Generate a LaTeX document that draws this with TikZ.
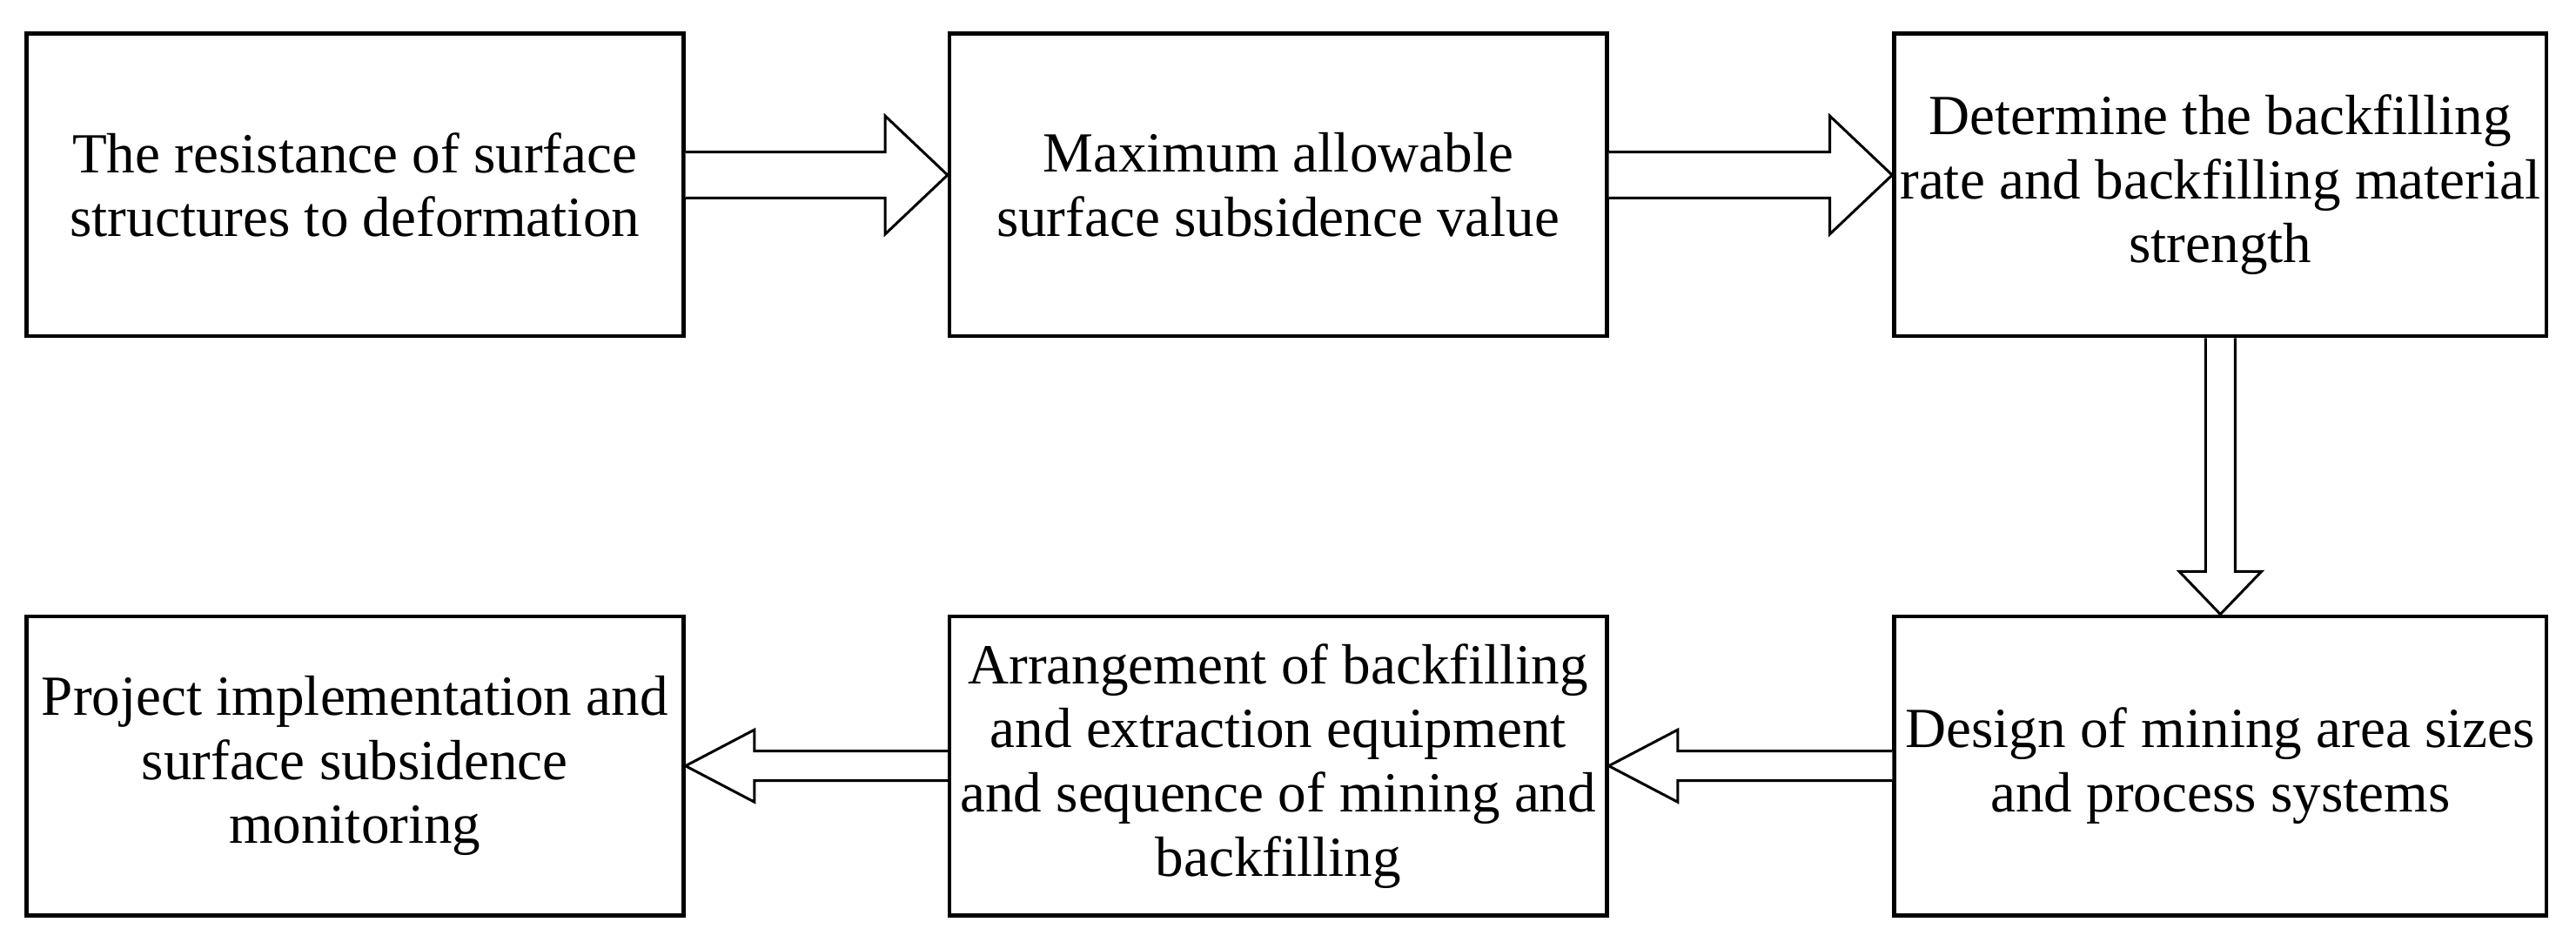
\documentclass[tikz,border=0pt]{standalone}
\usepackage{fontspec}
\setmainfont{Liberation Serif}
\usetikzlibrary{calc}
\begin{document}
\begin{tikzpicture}[x=1pt,y=-1pt,
  box/.style={draw,line width=2.5pt,minimum width=400pt,minimum height=184pt,align=center,font=\fontsize{34.5}{39}\selectfont,inner sep=0pt},
  arr/.style={draw,line width=1.6pt,fill=white}]
\useasboundingbox (0,0) rectangle (1568,577);
\node[box] (a) at (216,112.5) {The resistance of surface\\structures to deformation};
\node[box] (b) at (778,112.5) {Maximum allowable\\surface subsidence value};
\node[box,minimum width=397pt] (c) at (1351.5,112.5) {Determine the backfilling\\rate and backfilling material\\strength};
\node[box,minimum width=397pt,minimum height=182pt] (d) at (1351.5,466) {Design of mining area sizes\\and process systems};
\node[box,minimum height=182pt] (e) at (778,466) {Arrangement of backfilling\\and extraction equipment\\and sequence of mining and\\backfilling};
\node[box,minimum height=182pt] (f) at (216,466) {Project implementation and\\surface subsidence\\monitoring};
\draw[arr] ($(a.east)+(0,-20)$) -- ($(b.west)+(-38,-20)$) -- ($(b.west)+(-38,-42)$) -- ($(b.west)+(0,-6)$) -- ($(b.west)+(-38,30)$) -- ($(b.west)+(-38,8)$) -- ($(a.east)+(0,8)$);
\draw[arr] ($(b.east)+(0,-20)$) -- ($(c.west)+(-38,-20)$) -- ($(c.west)+(-38,-42)$) -- ($(c.west)+(0,-6)$) -- ($(c.west)+(-38,30)$) -- ($(c.west)+(-38,8)$) -- ($(b.east)+(0,8)$);
\draw[arr] ($(c.south)+(-9,0)$) -- ($(d.north)+(-9,-26)$) -- ($(d.north)+(-25,-26)$) -- (d.north) -- ($(d.north)+(25,-26)$) -- ($(d.north)+(9,-26)$) -- ($(c.south)+(9,0)$);
\draw[arr] ($(d.west)+(0,-9)$) -- ($(e.east)+(42,-9)$) -- ($(e.east)+(42,-22)$) -- (e.east) -- ($(e.east)+(42,22)$) -- ($(e.east)+(42,9)$) -- ($(d.west)+(0,9)$);
\draw[arr] ($(e.west)+(0,-9)$) -- ($(f.east)+(42,-9)$) -- ($(f.east)+(42,-22)$) -- (f.east) -- ($(f.east)+(42,22)$) -- ($(f.east)+(42,9)$) -- ($(e.west)+(0,9)$);
\end{tikzpicture}
\end{document}
